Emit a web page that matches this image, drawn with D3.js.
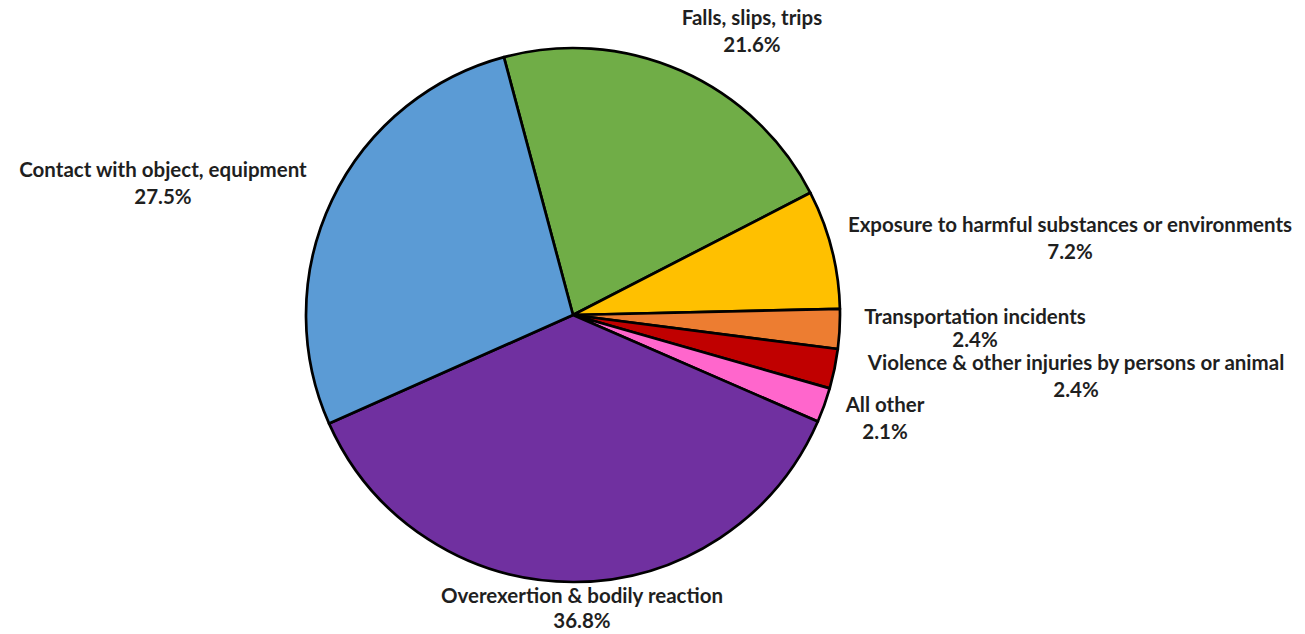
<!DOCTYPE html>
<html>
<head>
<meta charset="utf-8">
<script src="https://cdn.jsdelivr.net/npm/d3@7"></script>
<style>
  body { margin: 0; background: #fff; }
  svg text { font-family: Lato, "Open Sans", sans-serif; font-weight: bold; fill: #1f1f1f; }
</style>
</head>
<body>
<svg id="chart" width="1305" height="634"></svg>
<script>
// slices, clockwise from the Falls slice
var categories = [
  "Falls, slips, trips",
  "Exposure to harmful substances or environments",
  "Transportation incidents",
  "Violence & other injuries by persons or animal",
  "All other",
  "Overexertion & bodily reaction",
  "Contact with object, equipment"
];
var shares = [21.6, 7.2, 2.4, 2.4, 2.1, 36.8, 27.5];
var sliceColors = ["#70AD47", "#FFC000", "#ED7D31", "#C00000", "#FF66CC", "#7030A0", "#5B9BD5"];

// where each label block is centred (first line), picked to match the original
var labelAt = [
  [752, 18], [1070, 225], [975, 317], [1076, 363], [885, 405], [582, 596], [163, 170]
];
var lineGap = [27, 27, 23, 27, 27, 25, 27];

var svg = d3.select("#chart"),
  cx = 573,
  cy = 315,
  radius = 267;

var data = categories.map(function(c, i) {
  return { name: c, value: shares[i], color: sliceColors[i], pos: labelAt[i], gap: lineGap[i] };
});

var pie = d3.pie()
  .sort(null)
  .value(function(d) { return d.value; })
  .startAngle(-15 * Math.PI / 180)
  .endAngle(345 * Math.PI / 180);

var arc = d3.arc().innerRadius(0).outerRadius(radius);

var g = svg.append("g")
  .attr("transform", "translate(" + cx + "," + cy + ")");

g.selectAll("path")
  .data(pie(data))
  .enter()
  .append("path")
  .attr("d", arc)
  .attr("fill", function(d) { return d.data.color; })
  .attr("stroke", "#000")
  .attr("stroke-width", 2.7)
  .attr("stroke-linejoin", "round");

var labels = svg.append("g")
  .selectAll("text")
  .data(data)
  .enter()
  .append("text")
  .attr("text-anchor", "middle")
  .attr("font-size", 20.5);

labels.append("tspan")
  .attr("x", function(d) { return d.pos[0]; })
  .attr("y", function(d) { return d.pos[1]; })
  .attr("dy", "0.35em")
  .text(function(d) { return d.name; });

labels.append("tspan")
  .attr("x", function(d) { return d.pos[0]; })
  .attr("y", function(d) { return d.pos[1] + d.gap; })
  .attr("dy", "0.35em")
  .text(function(d) { return d.value.toFixed(1) + "%"; });
</script>
</body>
</html>
